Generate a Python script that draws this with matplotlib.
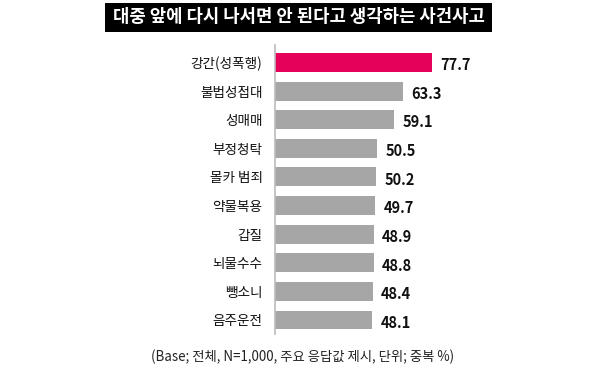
import matplotlib.pyplot as plt
from matplotlib.patches import Rectangle

plt.rcParams['font.family'] = ['Noto Sans CJK KR', 'DejaVu Sans']

# 데이터
labels = ['강간(성폭행)', '불법성접대', '성매매', '부정청탁', '몰카 범죄',
          '약물복용', '갑질', '뇌물수수', '뺑소니', '음주운전']
values = [77.7, 63.3, 59.1, 50.5, 50.2, 49.7, 48.9, 48.8, 48.4, 48.1]
colors = ['#e5005a'] + ['#a6a6a6'] * 9

title = '대중 앞에 다시 나서면 안 된다고 생각하는 사건사고'
note = '(Base; 전체, N=1,000, 주요 응답값 제시, 단위; 중복 %)'

W, H = 600, 377
fig = plt.figure(figsize=(W / 100, H / 100), dpi=100)

# 축 영역 (픽셀 기준으로 배치)
ax = fig.add_axes([275 / W, 1 - 334 / H, 200 / W, 289 / H])
pos = list(range(len(labels)))
ax.barh(pos, values, height=0.66, color=colors)
ax.set_xlim(0, 200 / 2.02)
ax.set_ylim(9.49, -0.61)

for s in ['top', 'right', 'bottom']:
    ax.spines[s].set_visible(False)
ax.spines['left'].set_color('#bbbbbb')
ax.spines['left'].set_linewidth(1.2)
ax.set_xticks([])
ax.set_yticks(pos)
ax.set_yticklabels(labels, fontsize=9.8, color='#111111', fontweight='medium')
ax.tick_params(axis='y', length=0, pad=9)

for p, v in zip(pos, values):
    ax.annotate(f'{v}', (v, p), xytext=(6, -2), textcoords='offset points',
                ha='left', va='center', fontsize=10.5, fontweight='bold',
                color='#111111')

# 제목 박스
fig.patches.append(Rectangle((105 / W, 1 - 32 / H), 387 / W, 29 / H,
                             transform=fig.transFigure, facecolor='black',
                             edgecolor='none'))
fig.text(298.5 / W, 1 - 17.5 / H, title, ha='center', va='center',
         color='white', fontsize=12.8, fontweight='bold')

fig.text(303 / W, 1 - 357 / H, note, ha='center', va='center',
         fontsize=9.6, color='#222222')

plt.savefig('out.png', dpi=100, facecolor='white')
plt.close()
